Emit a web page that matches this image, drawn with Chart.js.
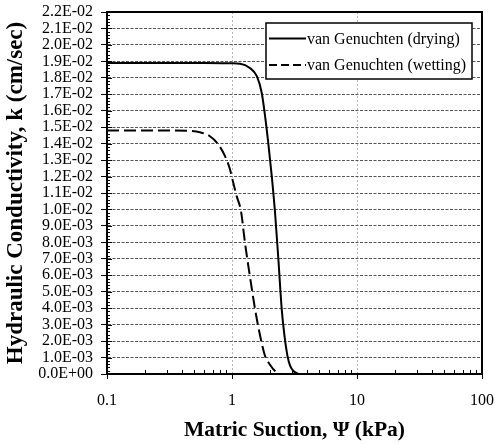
<!DOCTYPE html>
<html>
<head>
<meta charset="utf-8">
<script src="https://cdn.jsdelivr.net/npm/chart.js@4.4.0/dist/chart.umd.min.js"></script>
<style>
  html, body { margin: 0; padding: 0; background: #fff; }
  #wrap { width: 495px; height: 444px; }
</style>
</head>
<body>
<div id="wrap"><canvas id="hydChart" width="495" height="444"></canvas></div>
<script>
// data
const xTickValues = [0.1, 1, 10, 100];
const yTickLabels = ['0.0E+00', '1.0E-03', '2.0E-03', '3.0E-03', '4.0E-03', '5.0E-03',
  '6.0E-03', '7.0E-03', '8.0E-03', '9.0E-03', '1.0E-02', '1.1E-02', '1.2E-02', '1.3E-02',
  '1.4E-02', '1.5E-02', '1.6E-02', '1.7E-02', '1.8E-02', '1.9E-02', '2.0E-02', '2.1E-02', '2.2E-02'];

const seriesLabels = ['van Genuchten (drying)', 'van Genuchten (wetting)'];

const dryingSuction = [0.1, 0.3, 0.6, 0.85, 1.0, 1.16, 1.39, 1.58, 1.73, 1.84, 1.95, 2.08, 2.21, 2.35, 2.50, 2.63, 2.78, 2.92, 3.10, 3.40];
const dryingK = [0.0189, 0.0189, 0.0189, 0.01889, 0.01888, 0.01886, 0.0186, 0.0181, 0.01708, 0.01566, 0.01405, 0.01202, 0.0098, 0.00696, 0.00393, 0.00231, 0.00109, 0.00049, 0.00018, 0];

const wettingSuction = [0.1, 0.3, 0.46, 0.553, 0.666, 0.777, 0.879, 0.964, 1.024, 1.09, 1.18, 1.27, 1.39, 1.53, 1.68, 1.84, 2.02, 2.21, 2.43];
const wettingK = [0.0148, 0.0148, 0.01477, 0.01469, 0.01445, 0.01395, 0.01324, 0.01243, 0.01162, 0.01081, 0.0099, 0.00798, 0.00595, 0.00393, 0.00231, 0.00109, 0.00055, 0.00018, 0];

const toPoints = (xs, ys) => xs.map((v, i) => ({ x: v, y: ys[i] }));

const serif = "'Liberation Serif', 'Times New Roman', serif";
Chart.defaults.font.family = serif;
Chart.defaults.color = '#000';

// frame, inner minor ticks and the boxed legend
const framePlugin = {
  id: 'frame',
  afterDraw(chart) {
    const { ctx, chartArea: a, scales: { x, y } } = chart;
    ctx.save();
    ctx.strokeStyle = '#000';
    ctx.lineWidth = 1;
    ctx.beginPath();
    for (let d = 0.1; d < 99; d *= 10) {
      for (let m = 2; m <= 9; m++) {
        const px = Math.round(x.getPixelForValue(d * m)) + 0.5;
        ctx.moveTo(px, a.bottom);
        ctx.lineTo(px, a.bottom - 4);
      }
    }
    for (let i = 1; i < 110; i++) {
      const py = Math.round(y.getPixelForValue(i * 0.0002)) + 0.5;
      const len = i % 5 === 0 ? 5 : 3;
      ctx.moveTo(a.left, py);
      ctx.lineTo(a.left + len, py);
    }
    ctx.stroke();

    ctx.lineWidth = 2;
    ctx.strokeRect(a.left, a.top, a.right - a.left, a.bottom - a.top);

    // legend box
    const bx = a.right - 216, by = a.top + 11, bw = 206, bh = 56;
    ctx.fillStyle = '#fff';
    ctx.fillRect(bx, by, bw, bh);
    ctx.lineWidth = 1.5;
    ctx.strokeRect(bx, by, bw, bh);
    ctx.font = "16px " + serif;
    ctx.fillStyle = '#000';
    ctx.textBaseline = 'middle';
    chart.data.datasets.forEach((ds, i) => {
      const ly = by + 15.5 + i * 26.5;
      ctx.beginPath();
      ctx.lineWidth = 2;
      ctx.setLineDash(i === 0 ? [] : [8, 4]);
      ctx.moveTo(bx + 3, ly);
      ctx.lineTo(bx + 40, ly);
      ctx.stroke();
      ctx.setLineDash([]);
      ctx.fillText(ds.label, bx + 41, ly + 1);
    });
    ctx.restore();
  }
};

const tickFont = { family: serif, size: 16 };

new Chart(document.getElementById('hydChart'), {
  type: 'scatter',
  data: {
    datasets: [
      {
        label: seriesLabels[0],
        data: toPoints(dryingSuction, dryingK),
        showLine: true,
        borderColor: '#000',
        borderWidth: 2,
        pointRadius: 0,
        cubicInterpolationMode: 'monotone'
      },
      {
        label: seriesLabels[1],
        data: toPoints(wettingSuction, wettingK),
        showLine: true,
        borderColor: '#000',
        borderWidth: 2,
        borderDash: [12, 5],
        pointRadius: 0,
        cubicInterpolationMode: 'monotone'
      }
    ]
  },
  options: {
    responsive: false,
    animation: false,
    layout: { padding: { top: 12, right: 13, left: 0, bottom: 0 } },
    plugins: {
      legend: { display: false },
      tooltip: { enabled: false }
    },
    scales: {
      x: {
        type: 'logarithmic',
        min: 0.1,
        max: 100,
        afterBuildTicks: s => { s.ticks = xTickValues.map(v => ({ value: v })); },
        afterFit: s => { s.height = 70; s.paddingLeft = 0; s.paddingRight = 0; },
        ticks: {
          callback: v => String(v),
          font: tickFont,
          color: '#000',
          padding: 12,
          autoSkip: false,
          maxRotation: 0
        },
        grid: { color: '#b5b5b5', lineWidth: 1, tickLength: 5, tickColor: '#000' },
        border: { display: true, color: '#000', width: 2, dash: [2, 2] },
        title: {
          display: true,
          text: 'Matric Suction, Ψ (kPa)',
          font: { family: serif, size: 21.5, weight: 'bold' },
          color: '#000',
          padding: { top: 0, bottom: 1 }
        }
      },
      y: {
        min: 0,
        max: 0.022,
        afterBuildTicks: s => { s.ticks = yTickLabels.map(l => ({ value: parseFloat(l) })); },
        afterFit: s => { s.width = 107; s.paddingTop = 0; s.paddingBottom = 0; },
        ticks: {
          callback: (v, i) => yTickLabels[i],
          font: tickFont,
          color: '#000',
          padding: 8,
          autoSkip: false
        },
        grid: { color: '#555', lineWidth: 1, tickLength: 6, tickColor: '#000' },
        border: { display: true, color: '#000', width: 2, dash: [3, 1.5] },
        title: {
          display: true,
          text: 'Hydraulic Conductivity, k (cm/sec)',
          font: { family: serif, size: 23, weight: 'bold' },
          color: '#000',
          padding: { top: 2, bottom: 0 }
        }
      }
    }
  },
  plugins: [framePlugin]
});
</script>
</body>
</html>
